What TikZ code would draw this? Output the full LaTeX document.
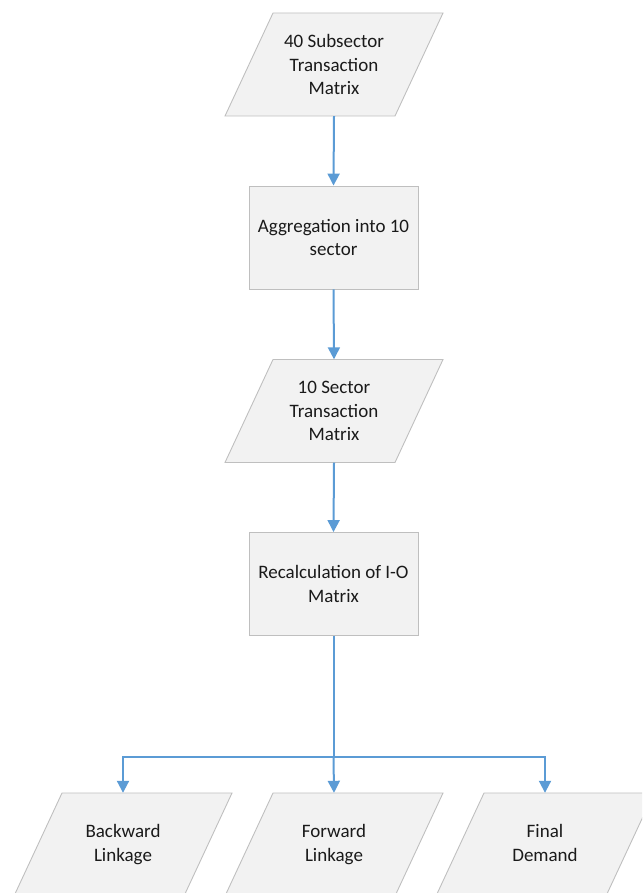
\documentclass[tikz,border=0pt]{standalone}
\usepackage{fontspec}
\setmainfont{Carlito}
\usetikzlibrary{arrows.meta}
\definecolor{boxfill}{HTML}{F2F2F2}
\definecolor{boxline}{HTML}{BFBFBF}
\definecolor{flow}{HTML}{5B9BD5}
\definecolor{ink}{HTML}{1A1A1A}
\tikzset{
  labeltext/.style={text=ink, align=center, inner sep=0pt,
    font=\fontsize{19}{23.5}\selectfont},
  procbox/.style={labeltext, draw=boxline, line width=0.9pt, fill=boxfill,
    rectangle, minimum width=169pt, minimum height=103pt},
  datatext/.style={labeltext, rectangle, minimum width=170pt, minimum height=103pt},
  dataframe/.style={draw=boxline, line width=0.9pt, fill=boxfill, line join=miter},
  flowline/.style={draw=flow, line width=2pt,
    -{Triangle[length=12pt,width=12pt]}},
}
% data (parallelogram) node: name, centre, text
\newcommand\datanode[3]{%
  \coordinate (#1-c) at (#2);
  \draw[dataframe] ([shift={(-61,-51.5)}]#1-c) -- ([shift={(109,-51.5)}]#1-c)
    -- ([shift={(61,51.5)}]#1-c) -- ([shift={(-109,51.5)}]#1-c) -- cycle;
  \node[datatext] (#1) at (#1-c) {#3};
}
\begin{document}
\begin{tikzpicture}[x=1pt,y=-1pt]
  \useasboundingbox (0,0) rectangle (642,893);
  \clip (0,0) rectangle (642,893);

  % main chain
  \datanode{sub40}{334,64.5}{40 Subsector\\Transaction\\Matrix}
  \node[procbox] (aggr) at (333.5,237.5) {Aggregation into 10\\sector};
  \datanode{sec10}{334,411}{10 Sector\\Transaction\\Matrix}
  \node[procbox] (recalc) at (333.5,584) {Recalculation of I-O\\Matrix};

  % outputs
  \datanode{back}{123,844.5}{Backward\\Linkage}
  \datanode{fwd}{334,844.5}{Forward\\Linkage}
  \datanode{fin}{545,844.5}{Final\\Demand\vphantom{g}}

  \coordinate (split) at (333.5,757);

  \draw[flowline] (sub40.south) -- (aggr.north);
  \draw[flowline] (aggr.south) -- (sec10.north);
  \draw[flowline] (sec10.south) -- (recalc.north);
  \draw[draw=flow, line width=2pt] (recalc.south) -- (split);
  \draw[flowline] (split) -| (back.north);
  \draw[flowline] (split) -| (fin.north);
  \draw[flowline] (split) -- (fwd.north);
\end{tikzpicture}
\end{document}
